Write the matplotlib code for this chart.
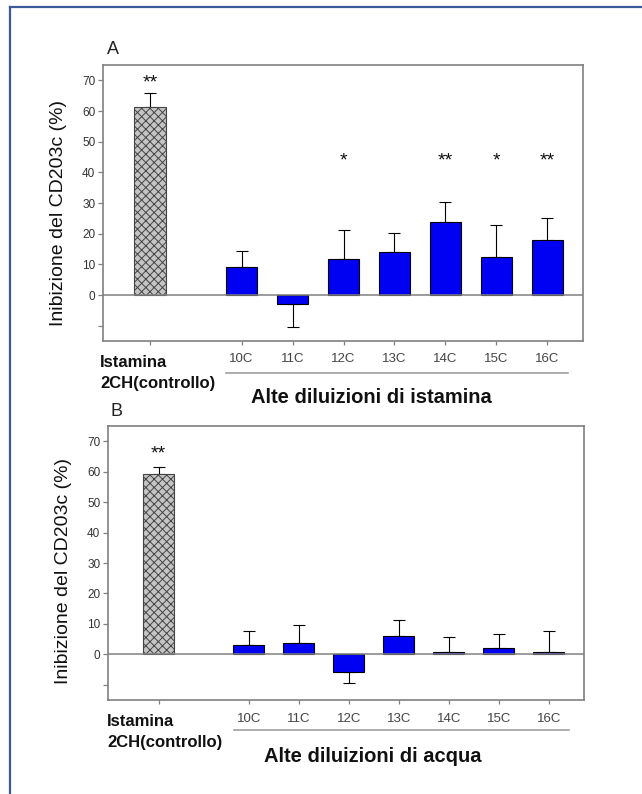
import matplotlib
matplotlib.use("Agg")
import matplotlib.pyplot as plt
from matplotlib.lines import Line2D
import matplotlib.transforms as mtransforms

plt.rcParams['font.family'] = ['Liberation Sans', 'DejaVu Sans']
plt.rcParams['hatch.linewidth'] = 0.7

# ---------------- data ----------------
categories = ['10C', '11C', '12C', '13C', '14C', '15C', '16C']
control_label = 'Istamina\n2CH(controllo)'

ctrl_A = 61.2
ctrl_A_err = 66.0          # top of error bar
vals_A = [9.1, -2.9, 11.7, 13.9, 23.7, 12.4, 18.0]
errtop_A = [14.5, -10.5, 21.1, 20.1, 30.4, 22.7, 25.2]   # end of error bar
sig_A = ['', '', '*', '', '**', '*', '**']
ctrl_sig_A = '**'
star_level_A = 44.8
ctrl_star_A = 70.2

ctrl_B = 59.2
ctrl_B_err = 61.5
vals_B = [3.1, 3.6, -5.7, 6.1, 0.9, 2.0, 0.7]
errtop_B = [7.8, 9.7, -9.3, 11.2, 5.6, 6.7, 7.8]
sig_B = ['', '', '', '', '', '', '']
ctrl_sig_B = '**'
star_level_B = 44.8
ctrl_star_B = 66.8

group_A = 'Alte diluizioni di istamina'
group_B = 'Alte diluizioni di acqua'
ylabel = 'Inibizione del CD203c (%)'
yticks = [-10, 0, 10, 20, 30, 40, 50, 60, 70]
ytick_labels = ['', '0', '10', '20', '30', '40', '50', '60', '70']

# positions along the x axis (control separated by a gap)
x_ctrl = 0.0
x_pos = [1.8 + i for i in range(len(categories))]

W, H = 642, 794
fig = plt.figure(figsize=(W / 100, H / 100), dpi=100)
fig.patch.set_facecolor('white')

# blue frame (left and top edges visible)
frame_col = '#3d5a98'
fig.add_artist(Line2D([10.5 / W, 10.5 / W], [0, 1 - 7 / H], transform=fig.transFigure,
                      color=frame_col, lw=1.6))
fig.add_artist(Line2D([10 / W, 1], [1 - 7 / H, 1 - 7 / H], transform=fig.transFigure,
                      color=frame_col, lw=1.6))

axA = fig.add_axes([103 / W, 1 - 341 / H, 480 / W, 276 / H])
axB = fig.add_axes([108 / W, 1 - 700 / H, 476 / W, 274 / H])

spine_col = '#808080'
STAR_SHIFT = 1.0   # Liberation asterisk sits high in its box


def draw_panel(ax, ctrl, ctrl_err, vals, errtop, sig, ctrl_sig, star_level, ctrl_star,
               group, xlim, ylab_x, lab_y, line_y, text_xy, istam_xy):
    bw = 0.62
    ax.bar([x_ctrl], [ctrl], width=bw, color='#c4c4c4', edgecolor='#444444',
           hatch='xxxx', lw=0.8, zorder=2)
    ax.bar(x_pos, vals, width=bw, color='#0000f2', edgecolor='black', lw=0.8, zorder=2)
    # one-sided error bars
    lo, hi = [], []
    for v, e in zip(vals, errtop):
        if v >= 0:
            lo.append(0)
            hi.append(e - v)
        else:
            lo.append(v - e)
            hi.append(0)
    ax.errorbar(x_pos, vals, yerr=[lo, hi], fmt='none', ecolor='black',
                elinewidth=0.8, capsize=4, capthick=0.8, zorder=1)
    ax.errorbar([x_ctrl], [ctrl], yerr=[[0], [ctrl_err - ctrl]], fmt='none',
                ecolor='black', elinewidth=0.8, capsize=4, capthick=0.8, zorder=1)
    ax.axhline(0, color=spine_col, lw=1.1, zorder=3)

    # significance stars
    for x, s in zip(x_pos, sig):
        if s:
            ax.text(x, star_level - STAR_SHIFT, s, ha='center', va='center',
                    fontsize=14, color='#111111')
    ax.text(x_ctrl, ctrl_star - STAR_SHIFT, ctrl_sig, ha='center', va='center',
            fontsize=14, color='#111111')

    ax.set_xlim(*xlim)
    ax.set_ylim(-15, 75)
    ax.set_yticks(yticks)
    ax.set_yticklabels(ytick_labels)
    ax.set_xticks([x_ctrl] + x_pos)
    ax.set_xticklabels([''] + categories)
    for sp in ax.spines.values():
        sp.set_color(spine_col)
        sp.set_linewidth(1.2)
    ax.tick_params(axis='y', direction='out', length=3.5, width=0.9, color=spine_col,
                   labelsize=8.5, labelcolor='#333333', pad=2)
    ax.tick_params(axis='x', direction='out', length=3, width=0.9, color=spine_col,
                   labelsize=9.5, labelcolor='#444444', pad=6)

    ax.set_ylabel(ylabel, fontsize=14, color='#111111')
    ax.yaxis.set_label_coords(ylab_x, lab_y)

    trans = mtransforms.blended_transform_factory(ax.transData, ax.transAxes)
    ax.add_line(Line2D([x_pos[0] - 0.3, x_pos[-1] + 0.4], [line_y, line_y],
                       transform=trans, color='#a0a0a0', lw=1.2, clip_on=False))
    ax.text(text_xy[0], text_xy[1], group, transform=ax.transAxes, ha='center',
            va='center', fontsize=14.5, fontweight='bold', color='#111111')
    ax.text(istam_xy[0], istam_xy[1], control_label, transform=ax.transAxes,
            ha='left', va='top', fontsize=12, fontweight='bold', linespacing=1.45,
            color='#111111')


draw_panel(axA, ctrl_A, ctrl_A_err, vals_A, errtop_A, sig_A, ctrl_sig_A,
           star_level_A, ctrl_star_A, group_A,
           (-0.92, 8.5), -0.074, 0.464, -0.116, (0.56, -0.203), (-0.006, -0.052))
draw_panel(axB, ctrl_B, ctrl_B_err, vals_B, errtop_B, sig_B, ctrl_sig_B,
           star_level_B, ctrl_star_B, group_B,
           (-1.01, 8.5), -0.075, 0.47, -0.109, (0.557, -0.208), (-0.002, -0.052))

fig.text(113 / W, 1 - 49 / H, 'A', fontsize=13, ha='center', va='center', color='#222222')
fig.text(117 / W, 1 - 411 / H, 'B', fontsize=13, ha='center', va='center', color='#222222')

fig.savefig('out.png', dpi=100, facecolor='white')
